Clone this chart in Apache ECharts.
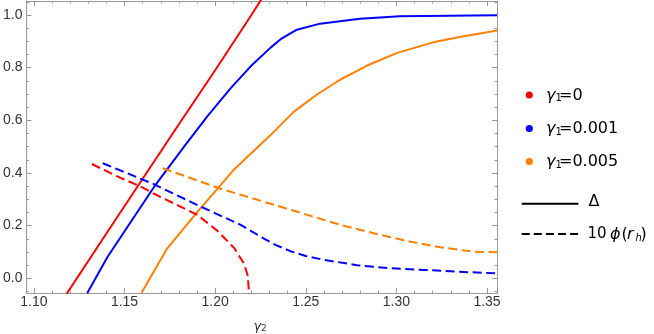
<!DOCTYPE html>
<html>
<head>
<meta charset="utf-8">
<script src="https://cdn.jsdelivr.net/npm/echarts@6/dist/echarts.min.js"></script>
<style>
html,body{margin:0;padding:0;background:#fff;}
#main{width:654px;height:334px;}
</style>
</head>
<body>
<div id="main"></div>
<script>
// ---- data ----
const redDelta = [[1.118,-0.06],[1.128,0.045],[1.14,0.17],[1.16,0.378],[1.18,0.585],[1.2,0.79],[1.22,1.0],[1.226,1.065]];
const blueDelta = [[1.1294,-0.057],[1.1405,0.08],[1.1671,0.355],[1.1836,0.507],[1.196,0.618],[1.2086,0.722],[1.2196,0.805],[1.2306,0.876],[1.2361,0.908],[1.2451,0.944],[1.2579,0.967],[1.2799,0.986],[1.3019,0.995],[1.3555,0.9985]];
const orangeDelta = [[1.1594,-0.055],[1.1736,0.114],[1.19,0.25],[1.21,0.41],[1.23,0.54],[1.2435,0.633],[1.256,0.697],[1.2689,0.754],[1.2836,0.807],[1.3001,0.855],[1.3202,0.896],[1.3349,0.916],[1.3555,0.941]];
const redPhi = [[1.132,0.434],[1.145,0.39],[1.159,0.348],[1.166,0.322],[1.18,0.275],[1.1903,0.24],[1.2013,0.18],[1.2105,0.115],[1.216,0.055],[1.218,0.01],[1.2187,-0.06]];
const bluePhi = [[1.138,0.437],[1.165,0.361],[1.1921,0.272],[1.2141,0.203],[1.2251,0.158],[1.2333,0.127],[1.2416,0.103],[1.25,0.085],[1.26,0.07],[1.2783,0.05],[1.2966,0.038],[1.315,0.032],[1.3333,0.025],[1.3555,0.019]];
const orangePhi = [[1.1711,0.418],[1.2022,0.342],[1.2141,0.317],[1.2325,0.279],[1.2508,0.241],[1.2691,0.203],[1.2875,0.171],[1.3058,0.142],[1.3241,0.118],[1.3425,0.101],[1.3555,0.099]];

const xMajorTicks = [1.10,1.15,1.20,1.25,1.30,1.35];
const xMinorTicks = [1.11,1.12,1.13,1.14,1.16,1.17,1.18,1.19,1.21,1.22,1.23,1.24,1.26,1.27,1.28,1.29,1.31,1.32,1.33,1.34];
const yMajorTicks = [0,0.2,0.4,0.6,0.8,1.0];
const yMinorTicks = [-0.05,0.05,0.1,0.15,0.25,0.3,0.35,0.45,0.5,0.55,0.65,0.7,0.75,0.85,0.9,0.95,1.05];
const legendLabels = ['0','0.001','0.005'];
const seriesColors = ['#ff0000','#0000ff','#ff8000'];

const X_MIN = 1.0959, X_MAX = 1.3555, Y_MIN = -0.0558, Y_MAX = 1.053;
const FRAME = '#999999';
const TICKC = '#999999';

function xAxisDef(pos, ticks, len, showLine, labels) {
  return {
    type:'value', position:pos, min:X_MIN, max:X_MAX,
    axisLine:{show:showLine, onZero:false, lineStyle:{color:FRAME,width:1}},
    axisTick:{show:true, inside:true, length:len, customValues:ticks, lineStyle:{color:TICKC,width:1}},
    axisLabel:{show:labels, customValues:ticks, margin:2, color:'#333', fontFamily:'Liberation Sans', fontSize:14,
      formatter:(v)=>Number(v).toFixed(2)},
    splitLine:{show:false}
  };
}
function yAxisDef(pos, ticks, len, showLine, labels) {
  return {
    type:'value', position:pos, min:Y_MIN, max:Y_MAX,
    axisLine:{show:showLine, onZero:false, lineStyle:{color:FRAME,width:1}},
    axisTick:{show:true, inside:true, length:len, customValues:ticks, lineStyle:{color:TICKC,width:1}},
    axisLabel:{show:labels, customValues:ticks, margin:4, color:'#333', fontFamily:'Liberation Sans', fontSize:14,
      formatter:(v)=>Number(v).toFixed(1)},
    splitLine:{show:false}
  };
}

function mkLine(data, color, dashed) {
  return {
    type:'line', data:data, xAxisIndex:0, yAxisIndex:0,
    showSymbol:false, symbol:'none', smooth:false, clip:true,
    lineStyle:{color:color, width:2, type: dashed ? [9,4.5] : 'solid'},
    emphasis:{disabled:true}
  };
}

const chart = echarts.init(document.getElementById('main'), null, {renderer:'canvas'});

const FONT = 'DejaVu Sans';
const graphics = [];
const rowY = [95.5, 129, 162];
for (let i = 0; i < 3; i++) {
  const y = rowY[i];
  graphics.push({type:'circle', shape:{cx:529.3, cy:rowY[i]-0.5, r:3.6}, style:{fill:seriesColors[i]}});
  graphics.push({type:'text', x:546, y:y, style:{text:'\u03B3', font:'italic 16px "'+FONT+'"', fill:'#000', verticalAlign:'middle'}});
  graphics.push({type:'text', x:555.5, y:y+3, style:{text:'1', font:'10px "'+FONT+'"', fill:'#000', verticalAlign:'middle'}});
  graphics.push({type:'text', x:559, y:y, style:{text:'='+legendLabels[i], font:'16px "'+FONT+'"', fill:'#000', verticalAlign:'middle'}});
}
graphics.push({type:'line', shape:{x1:521.7, y1:203.7, x2:578.3, y2:203.7}, style:{stroke:'#000', lineWidth:2}});
graphics.push({type:'line', shape:{x1:521.7, y1:234, x2:578.3, y2:234}, style:{stroke:'#000', lineWidth:2, lineDash:[8,4.1]}});
graphics.push({type:'text', x:588.5, y:201.5, style:{text:'\u0394', font:'16px "'+FONT+'"', fill:'#000', verticalAlign:'middle'}});
graphics.push({type:'text', x:587.5, y:234.5, style:{text:'10', font:'15px "'+FONT+'"', fill:'#000', verticalAlign:'middle'}});
graphics.push({type:'text', x:610, y:234.5, style:{text:'\u03D5', font:'italic 16px "'+FONT+'"', fill:'#000', verticalAlign:'middle'}});
graphics.push({type:'text', x:621.5, y:234.5, style:{text:'(', font:'16px "'+FONT+'"', fill:'#000', verticalAlign:'middle'}});
graphics.push({type:'text', x:627, y:234.5, style:{text:'r', font:'italic 16px "'+FONT+'"', fill:'#000', verticalAlign:'middle'}});
graphics.push({type:'text', x:635.5, y:238, style:{text:'h', font:'italic 10px "'+FONT+'"', fill:'#000', verticalAlign:'middle'}});
graphics.push({type:'text', x:640.5, y:234.5, style:{text:')', font:'16px "'+FONT+'"', fill:'#000', verticalAlign:'middle'}});
// x-axis name
graphics.push({type:'text', x:253.5, y:326.5, style:{text:'\u03B3', font:'italic 13px "'+FONT+'"', fill:'#333', verticalAlign:'middle'}});
graphics.push({type:'text', x:261, y:329, style:{text:'2', font:'9px "'+FONT+'"', fill:'#333', verticalAlign:'middle'}});

chart.setOption({
  animation:false,
  backgroundColor:'#fff',
  grid:{left:25, top:1, width:472, height:292, containLabel:false},
  xAxis:[
    xAxisDef('bottom', xMajorTicks, 5, true, true),
    xAxisDef('bottom', xMinorTicks, 2.5, false, false),
    xAxisDef('top', xMajorTicks, 5, true, false),
    xAxisDef('top', xMinorTicks, 2.5, false, false)
  ],
  yAxis:[
    yAxisDef('left', yMajorTicks, 5, true, true),
    yAxisDef('left', yMinorTicks, 2.5, false, false),
    yAxisDef('right', yMajorTicks, 5, true, false),
    yAxisDef('right', yMinorTicks, 2.5, false, false)
  ],
  series:[
    mkLine(redDelta, seriesColors[0], false),
    mkLine(blueDelta, seriesColors[1], false),
    mkLine(orangeDelta, seriesColors[2], false),
    mkLine(redPhi, seriesColors[0], true),
    mkLine(bluePhi, seriesColors[1], true),
    mkLine(orangePhi, seriesColors[2], true)
  ],
  graphic:graphics
});
</script>
</body>
</html>
